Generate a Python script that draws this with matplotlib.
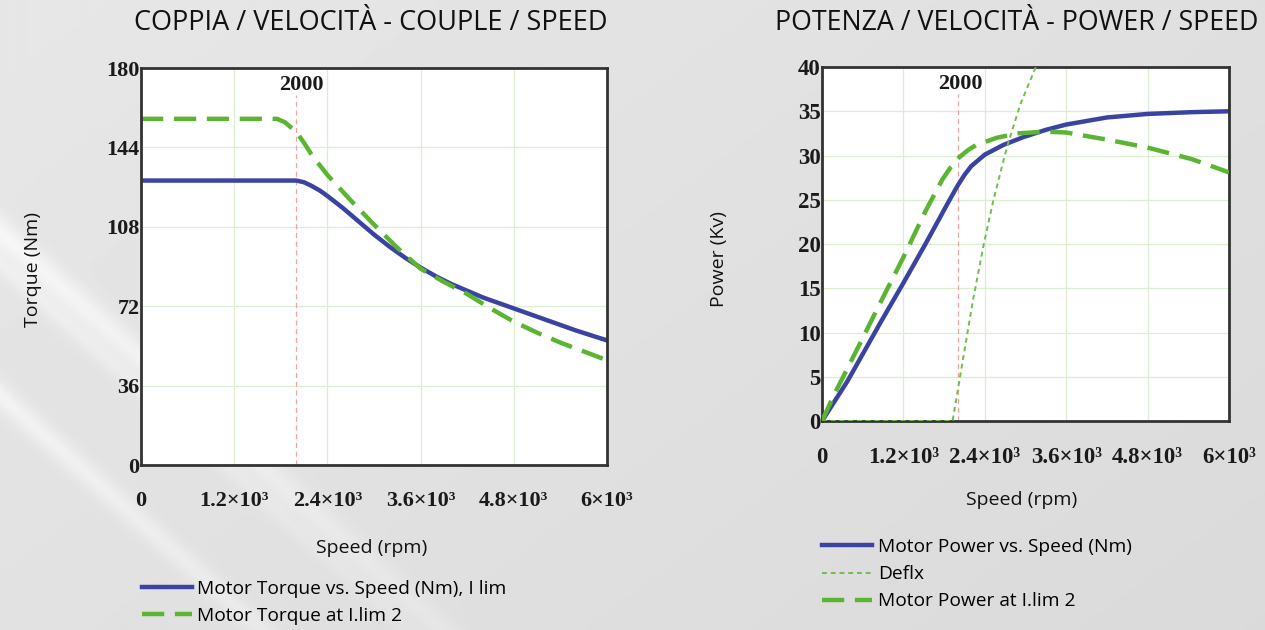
import numpy as np
import matplotlib
matplotlib.use("Agg")
import matplotlib.pyplot as plt

# ---------------------------------------------------------------------------
# data
# ---------------------------------------------------------------------------
torque_rpm = [0, 2000, 2100, 2200, 2300, 2400, 2600, 2800, 3000, 3200, 3400, 3600,
              3800, 4000, 4400, 4800, 5200, 5600, 6000]
torque_ilim = [129, 129, 128.2, 126.5, 124.5, 122, 116.5, 110.5, 104.5, 99, 94, 89.5,
               85.5, 82, 76, 71, 66, 61, 56.5]

torque2_rpm = [0, 1750, 1850, 1950, 2000, 2100, 2200, 2400, 2700, 3000, 3300,
               3600, 3900, 4200, 4500, 4800, 5100, 5400, 5700, 6000]
torque2_ilim = [157, 157, 155.5, 152.5, 151, 146, 140.5, 131.5, 120, 109, 98.5,
                89, 83, 77.5, 71, 65, 60, 55.5, 51.5, 47.5]

power_rpm = [0, 375, 875, 1200, 1525, 1875, 2000, 2100, 2200, 2400, 2675,
             2975, 3300, 3600, 4200, 4800, 5450, 6000]
power_ilim = [0, 4.5, 11.3, 15.6, 20, 24.9, 26.6, 27.8, 28.8, 30.1, 31.2,
              32.1, 32.9, 33.5, 34.3, 34.7, 34.9, 35.0]

power2_rpm = [0, 180, 530, 875, 1200, 1525, 1775, 1900, 2025, 2150, 2275,
              2575, 2875, 3300, 3600, 4200, 4800, 5450, 6000]
power2_ilim = [0, 3.0, 8.3, 13.6, 18.5, 23.7, 27.3, 28.7, 29.8, 30.6, 31.2,
               32.0, 32.5, 32.7, 32.6, 31.8, 30.9, 29.6, 28.1]

deflx_rpm = [0, 1925, 2075, 2225, 2375, 2525, 2725, 2925, 3125, 3300]
deflx_val = [0, 0, 6.8, 13.6, 19.6, 24.9, 30.9, 35.8, 39.5, 42.5]

x_ticks = [0, 1200, 2400, 3600, 4800, 6000]
x_ticklabels = ["0", "1.2×10³", "2.4×10³", "3.6×10³", "4.8×10³", "6×10³"]
torque_ticks = [0, 36, 72, 108, 144, 180]
power_ticks = [0, 5, 10, 15, 20, 25, 30, 35, 40]
knee_rpm = 2000

BLUE = "#3a44a0"
GREEN = "#5bb432"
GRID = "#dcedd2"
SANS = "Open Sans"
SERIF = "Liberation Serif"

fig = plt.figure(figsize=(12.65, 6.3), dpi=100)
fig.patch.set_facecolor("#dedede")

# grey background with soft diagonal streaks (decoration only)
bg = fig.add_axes([0, 0, 1, 1], zorder=-10)
vv, uu = np.mgrid[0:1:315j, 0:1:632j]
shade = 0.885 - 0.03 * uu + 0.02 * (1 - vv)
fade = np.clip(1 - uu * 1.8, 0, 1)
for off, amp, w in [(0.37, 0.07, 0.03), (0.42, 0.04, 0.02), (0.63, 0.06, 0.025)]:
    shade += amp * np.exp(-((vv - (off + 1.8 * uu)) / w) ** 2) * fade
shade = np.clip(shade, 0, 1)
bg.imshow(shade, cmap="gray", vmin=0, vmax=1, extent=[0, 1, 0, 1],
          aspect="auto", origin="upper")
bg.axis("off")


def style_axes(ax, yticks, size):
    ax.set_facecolor("white")
    ax.set_xlim(0, 6000)
    ax.set_ylim(yticks[0], yticks[-1])
    ax.set_xticks(x_ticks)
    ax.set_xticklabels(x_ticklabels)
    ax.set_yticks(yticks)
    ax.tick_params(length=0)
    ax.tick_params(axis="x", pad=19)
    ax.tick_params(axis="y", pad=1)
    for lab in ax.get_xticklabels() + ax.get_yticklabels():
        lab.set_family(SERIF)
        lab.set_fontweight("bold")
        lab.set_fontsize(size)
        lab.set_color("#1a1a1a")
    ax.grid(True, color=GRID, linewidth=0.9)
    ax.set_axisbelow(True)
    for sp in ax.spines.values():
        sp.set_linewidth(2.0)
        sp.set_color("#333333")


# ---------------- left: torque ----------------
ax1 = fig.add_axes([0.1115, 0.2619, 0.3684, 0.630])
style_axes(ax1, torque_ticks, 16)
ax1.vlines(knee_rpm, 0, 168, color="#f4a39c", linewidth=0.9, linestyles=(0, (4, 3)))
ax1.text(knee_rpm + 60, 172.5, "2000", family=SERIF, fontweight="bold",
         fontsize=16, ha="center", va="center", color="#1a1a1a")
l1, = ax1.plot(torque_rpm, torque_ilim, color=BLUE, linewidth=3.2,
               label="Motor Torque vs. Speed (Nm), I lim")
l2, = ax1.plot(torque2_rpm, torque2_ilim, color=GREEN, linewidth=3.2,
               dashes=(5, 2.4), label="Motor Torque at I.lim 2")

fig.text(0.293, 0.963, "COPPIA / VELOCITÀ - COUPLE / SPEED", family=SANS,
         fontsize=19.5, ha="center", va="center", color="#111111")
fig.text(0.294, 0.130, "Speed (rpm)", family=SANS, fontsize=14,
         ha="center", va="center", color="#111111")
fig.text(0.026, 0.572, "Torque (Nm)", family=SANS, fontsize=14, rotation=90,
         ha="center", va="center", color="#111111")
ax1.legend(handles=[l1, l2], loc="upper left",
           bbox_to_anchor=(0.112, 0.0794), bbox_transform=fig.transFigure,
           frameon=False, handlelength=2.6, handletextpad=0.3,
           labelspacing=0.48, borderpad=0, borderaxespad=0,
           prop={"family": SANS, "size": 13.8})

# ---------------- right: power ----------------
ax2 = fig.add_axes([0.6498, 0.3317, 0.3217, 0.5619])
style_axes(ax2, power_ticks, 16.5)
ax2.vlines(knee_rpm, 0, 37, color="#f4a39c", linewidth=0.9, linestyles=(0, (4, 3)))
ax2.text(knee_rpm + 40, 38.1, "2000", family=SERIF, fontweight="bold",
         fontsize=16, ha="center", va="center", color="#1a1a1a")
p1, = ax2.plot(power_rpm, power_ilim, color=BLUE, linewidth=3.2,
               label="Motor Power vs. Speed (Nm)")
p3, = ax2.plot(deflx_rpm, deflx_val, color="#6cc04a", linewidth=1.4,
               dashes=(2.5, 2), label="Deflx", zorder=3)
p2, = ax2.plot(power2_rpm, power2_ilim, color=GREEN, linewidth=3.2,
               dashes=(5, 2.4), label="Motor Power at I.lim 2", zorder=3.1)

fig.text(0.804, 0.963, "POTENZA / VELOCITÀ - POWER / SPEED", family=SANS,
         fontsize=19.3, ha="center", va="center", color="#111111")
fig.text(0.808, 0.206, "Speed (rpm)", family=SANS, fontsize=14,
         ha="center", va="center", color="#111111")
fig.text(0.568, 0.588, "Power (Kv)", family=SANS, fontsize=14, rotation=90,
         ha="center", va="center", color="#111111")
ax2.legend(handles=[p1, p3, p2], loc="upper left",
           bbox_to_anchor=(0.65, 0.146), bbox_transform=fig.transFigure,
           frameon=False, handlelength=2.6, handletextpad=0.3,
           labelspacing=0.48, borderpad=0, borderaxespad=0,
           prop={"family": SANS, "size": 13.8})

fig.savefig("out.png", dpi=100, facecolor=fig.get_facecolor())
